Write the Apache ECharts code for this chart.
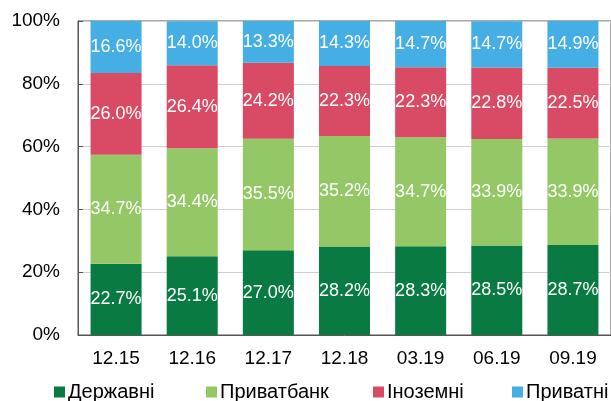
<!DOCTYPE html>
<html>
<head>
<meta charset="utf-8">
<script src="https://cdn.jsdelivr.net/npm/echarts@6/dist/echarts.min.js"></script>
<style>
  html, body { margin: 0; padding: 0; background: #fff; }
  #chart { width: 611px; height: 401px; }
</style>
</head>
<body>
<div id="chart"></div>
<script>
var categories = ["12.15", "12.16", "12.17", "12.18", "03.19", "06.19", "09.19"]
var seriesNames = ["Державні", "Приватбанк", "Іноземні", "Приватні"]
var state = [22.7, 25.1, 27.0, 28.2, 28.3, 28.5, 28.7]
var privatbank = [34.7, 34.4, 35.5, 35.2, 34.7, 33.9, 33.9]
var foreign = [26.0, 26.4, 24.2, 22.3, 22.3, 22.8, 22.5]
var privateBanks = [16.6, 14.0, 13.3, 14.3, 14.7, 14.7, 14.9]
var yTicks = [0, 20, 40, 60, 80, 100]

var colors = ["#0a7a43", "#94c765", "#d94b64", "#45aee4"]
var font = "Liberation Sans, Arial, sans-serif"
// legend item left positions, one legend per series
var legendLeft = [54, 206, 373, 512]

function makeSeries(name, data, color) {
	return {
		name: name,
		type: "bar",
		stack: "total",
		data: data,
		barWidth: "67%",
		itemStyle: { color: color },
		label: {
			show: true,
			position: "inside",
			color: "#fff",
			fontFamily: font,
			fontSize: 18,
			formatter: function(p) {
				return p.value.toFixed(1) + "%"
			}
		}
	}
}

function makeLegend(i) {
	return {
		top: 381,
		left: legendLeft[i],
		padding: 0,
		itemWidth: 11,
		itemHeight: 11,
		icon: "rect",
		textStyle: {
			fontFamily: font,
			fontSize: 20,
			lineHeight: 22,
			color: "#000",
			padding: [0, 0, 0, -2]
		},
		data: [seriesNames[i]]
	}
}

var chart = echarts.init(document.getElementById("chart"))
chart.setOption({
	animation: false,
	grid: {
		left: 78,
		top: 21,
		width: 539,
		bottom: 66,
		show: true,
		borderColor: "#555",
		borderWidth: 1
	},
	legend: [makeLegend(0), makeLegend(1), makeLegend(2), makeLegend(3)],
	xAxis: {
		type: "category",
		data: categories,
		axisLine: { lineStyle: { color: "#555" } },
		axisTick: { inside: true, length: 5, lineStyle: { color: "#555" } },
		axisLabel: { fontFamily: font, fontSize: 19, color: "#000", margin: 14 }
	},
	yAxis: {
		type: "value",
		min: 0,
		max: 100,
		interval: 20,
		axisLine: { show: true, lineStyle: { color: "#555" } },
		axisTick: { show: true, inside: true, length: 5, lineStyle: { color: "#555" } },
		splitLine: { lineStyle: { color: "#d0d0d0" } },
		axisLabel: {
			fontFamily: font,
			fontSize: 19,
			color: "#000",
			margin: 18,
			formatter: function(v) {
				return yTicks.indexOf(v) >= 0 ? v + "%" : ""
			}
		}
	},
	series: [
		makeSeries(seriesNames[0], state, colors[0]),
		makeSeries(seriesNames[1], privatbank, colors[1]),
		makeSeries(seriesNames[2], foreign, colors[2]),
		makeSeries(seriesNames[3], privateBanks, colors[3])
	]
})
</script>
</body>
</html>
